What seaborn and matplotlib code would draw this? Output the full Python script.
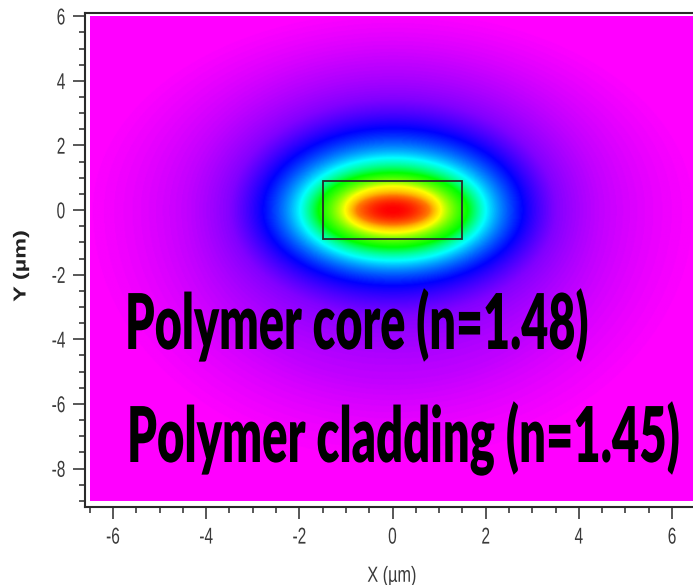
import numpy as np
import matplotlib
matplotlib.use("Agg")
import matplotlib.pyplot as plt
import seaborn as sns
from matplotlib.colors import LinearSegmentedColormap
from matplotlib.patches import Rectangle
from matplotlib import patheffects
from matplotlib.transforms import Affine2D
from matplotlib.ticker import MultipleLocator, FixedLocator

# ---- values ----
# field level (0 = magenta ... 1 = red) and the half-widths (µm) of each iso-level contour
levels = [1.0, 0.9, 0.8, 0.6, 0.4, 0.2, 0.1, 0.05, 0.0]
half_x = [0.0, 0.78, 1.03, 1.6, 2.0, 2.8, 3.5, 4.45, 6.7]
half_y_up = [0.0, 0.46, 0.74, 1.16, 1.62, 2.55, 3.45, 4.6, 6.3]
half_y_down = [0.0, 0.46, 0.70, 1.15, 1.57, 2.35, 3.3, 5.3, 8.0]
x_extent = [-6.5, 6.5]
y_extent = [-9.0, 6.0]
core_x = [-1.5, 1.5]
core_y = [-0.9, 0.9]
x_ticks = [-6, -4, -2, 0, 2, 4, 6]
y_ticks = [-8, -6, -4, -2, 0, 2, 4, 6]
annotations = ["Polymer core (n=1.48)", "Polymer cladding (n=1.45)"]
cmap_colors = ["#ff00ff", "#0000ff", "#00ffff", "#00ff00", "#ffff00", "#ff0000"]
x_label = "X (\u00b5m)"
y_label = "Y (\u00b5m)"

sns.set_style("ticks")
plt.rcParams["font.family"] = ["Liberation Sans", "DejaVu Sans"]
plt.rcParams["axes.unicode_minus"] = False

# ---- build field from the contour table ----
xs = np.linspace(x_extent[0], x_extent[1], 651)
ys = np.linspace(y_extent[1], y_extent[0], 751)
X, Y = np.meshgrid(xs, ys)
L = np.array(levels)
A = np.array(half_x)[1:, None, None]
Bu = np.array(half_y_up)[1:, None, None]
Bd = np.array(half_y_down)[1:, None, None]
B = np.where(Y[None] >= 0, Bu, Bd)
S = np.sqrt((X[None] / A) ** 2 + (Y[None] / B) ** 2)
n = S.shape[0]
k = (S > 1).sum(axis=0)
field = np.zeros_like(X)
inner = k == 0
field[inner] = 1.0 - (1.0 - L[1]) * S[0][inner] ** 2
mid = (k > 0) & (k < n)
kk = np.clip(k, 1, n - 1)
s_out = np.take_along_axis(S, (kk - 1)[None], axis=0)[0]
s_in = np.take_along_axis(S, kk[None], axis=0)[0]
w = (s_out - 1.0) / (s_out - s_in)
lv = L[kk] + (L[kk + 1] - L[kk]) * w
field[mid] = lv[mid]
field[k >= n] = L[-1]

cmap = LinearSegmentedColormap.from_list("mode", cmap_colors)


class Stretch(patheffects.AbstractPathEffect):
    """Scale glyph outlines of a text about an anchor (text stays a Text artist)."""

    def __init__(self, sx=1.0, sy=1.0, anchor_x="center", anchor_y="center"):
        super().__init__()
        self.sx, self.sy = sx, sy
        self.anchor_x, self.anchor_y = anchor_x, anchor_y

    def draw_path(self, renderer, gc, tpath, affine, rgbFace=None):
        bb = tpath.get_extents(affine)
        m = affine.get_matrix()
        cx = {"left": bb.x0, "center": 0.5 * (bb.x0 + bb.x1), "right": bb.x1,
              "origin": m[0, 2]}[self.anchor_x]
        cy = {"bottom": bb.y0, "center": 0.5 * (bb.y0 + bb.y1), "top": bb.y1,
              "origin": m[1, 2]}[self.anchor_y]
        t = affine + Affine2D().translate(-cx, -cy).scale(self.sx, self.sy).translate(cx, cy)
        renderer.draw_path(gc, tpath, t, rgbFace)


fig = plt.figure(figsize=(6.93, 5.85), dpi=100)
ax = fig.add_axes([85 / 693, 78 / 585, 615 / 693, 494 / 585])
ax.imshow(field, extent=[x_extent[0], x_extent[1], y_extent[0], y_extent[1]],
          cmap=cmap, vmin=0, vmax=1, aspect="auto", interpolation="bilinear", zorder=1)
ax.add_patch(Rectangle((core_x[0], core_y[0]), core_x[1] - core_x[0], core_y[1] - core_y[0],
                       fill=False, ec="#2a2a2a", lw=1.3, zorder=2))
ax.set_xlim(-6.6, 6.6)
ax.set_ylim(-9.19, 6.1)

ax.xaxis.set_major_locator(FixedLocator(x_ticks))
ax.yaxis.set_major_locator(FixedLocator(y_ticks))
ax.xaxis.set_minor_locator(MultipleLocator(0.5))
ax.yaxis.set_minor_locator(MultipleLocator(0.5))
ax.tick_params(which="major", direction="out", length=8.5, width=1.1, color="#2a2a2a",
               labelsize=15, labelcolor="#3a3a3a")
ax.tick_params(axis="x", which="major", pad=6)
ax.tick_params(axis="y", which="major", pad=5.5)
ax.tick_params(which="minor", direction="out", length=4.3, width=1.1, color="#2a2a2a")
for sp in ax.spines.values():
    sp.set_color("#2a2a2a")
    sp.set_linewidth(1.5)

targets = [(125, 349, 463), (127, 462, 552)]
texts = []
for s, (px, py, tw) in zip(annotations, targets):
    t = fig.text(px / 693, 1 - py / 585, s, ha="left", va="baseline", fontsize=30,
                 family=["Lato", "DejaVu Sans"], weight="heavy", color="black")
    texts.append((t, tw))

xl = fig.text(392 / 693, 1 - 576 / 585, x_label, ha="center", va="center", fontsize=15,
              color="#3a3a3a")
yl = fig.text(21 / 693, 1 - 266 / 585, y_label, ha="center", va="center", rotation=90,
              fontsize=12.5, weight="bold", color="#222222")

fig.canvas.draw()
cap_target = 55.0
for t, tw in texts:
    bb = t.get_window_extent()
    fs = t.get_fontsize() * tw / bb.width
    t.set_fontsize(fs)
    cap_px = 0.7165 * fs * 100 / 72
    t.set_path_effects([Stretch(1.0, cap_target / cap_px, "origin", "origin")])

for tk in ax.xaxis.get_major_ticks():
    tk.label1.set_path_effects([Stretch(0.74, 1.1, "center", "top")])
for tk in ax.yaxis.get_major_ticks():
    tk.label1.set_path_effects([Stretch(0.74, 1.1, "right", "center")])
xl.set_path_effects([Stretch(0.78, 1.05, "center", "center")])
yl.set_path_effects([Stretch(1.0, 1.35, "center", "center")])

fig.savefig("out.png", dpi=100)
